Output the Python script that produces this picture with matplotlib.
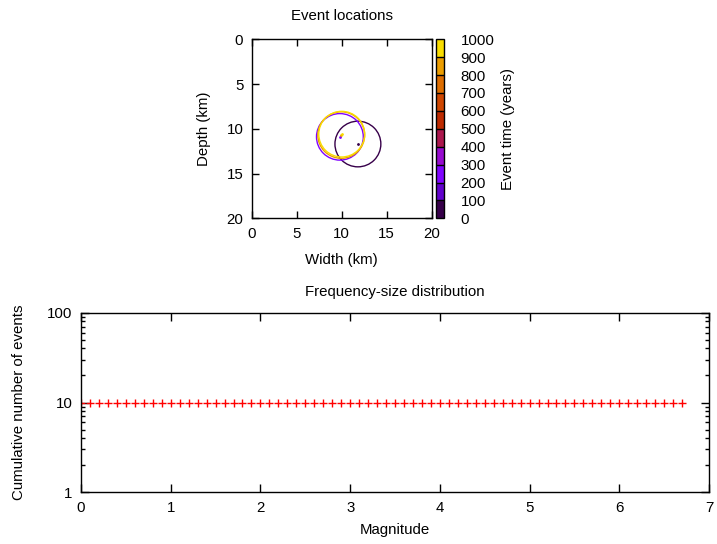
import numpy as np
import matplotlib
matplotlib.use('Agg')
import matplotlib.pyplot as plt
from matplotlib.colors import ListedColormap, BoundaryNorm
from matplotlib.patches import Circle

plt.rcParams['font.family'] = ['Liberation Sans', 'DejaVu Sans']
plt.rcParams['font.size'] = 10.8
plt.rcParams['axes.titlesize'] = 10.8

# events: hypocentre (width, depth), rupture radius (km), time (years)
event_x = [11.8, 9.8, 9.95, 10.0]
event_depth = [11.7, 10.9, 10.7, 10.6]
event_radius = [2.55, 2.6, 2.6, 2.55]
event_time = [50, 250, 850, 950]

# frequency-size distribution
magnitudes = np.round(np.arange(0.0, 6.75, 0.1), 1)
cum_counts = [10] * len(magnitudes)

# gnuplot default palette (7,5,15), 10 discrete colours
levels = np.linspace(0, 1000, 11)
cmap = ListedColormap(plt.cm.gnuplot((np.arange(10) + 0.5) / 10))
norm = BoundaryNorm(levels, cmap.N)

fig = plt.figure(figsize=(7.17, 5.44), dpi=100)

ax1 = fig.add_axes([251.7 / 717, 1 - 218.3 / 544, 180 / 717, 179 / 544])
for x, d, r, t in zip(event_x, event_depth, event_radius, event_time):
    c = cmap(norm(t))
    ax1.add_patch(Circle((x, d), r, fill=False, edgecolor=c, lw=1.0))
    ax1.plot(x, d, '.', color=c, ms=2)
ax1.set_xlim(0, 20)
ax1.set_ylim(20, 0)
ax1.set_xticks([0, 5, 10, 15, 20])
ax1.set_yticks([0, 5, 10, 15, 20])
ax1.tick_params(direction='in', top=True, right=True, length=5, width=1, pad=6)
ax1.set_xlabel('Width (km)', labelpad=9)
ax1.set_ylabel('Depth (km)', labelpad=11)
ax1.set_title('Event locations', pad=14)

cax = fig.add_axes([435.7 / 717, 1 - 218.3 / 544, 8.3 / 717, 179 / 544])
sm = matplotlib.cm.ScalarMappable(norm=norm, cmap=cmap)
cb = fig.colorbar(sm, cax=cax, ticks=levels, drawedges=True)
cb.outline.set_linewidth(1)
cb.dividers.set_linewidth(1)
cax.tick_params(length=0, pad=12)
cb.set_label('Event time (years)', labelpad=5)

ax2 = fig.add_axes([81 / 717, 1 - 492.3 / 544, 628 / 717, 179.6 / 544])
ax2.plot(magnitudes, cum_counts, '+', color='red', ms=6, mew=1)
ax2.set_yscale('log')
ax2.set_xlim(0, 7)
ax2.set_ylim(1, 100)
ax2.set_yticks([1, 10, 100])
ax2.set_yticklabels(['1', '10', '100'])
ax2.tick_params(which='major', direction='in', top=True, right=True, length=6, width=1, pad=6)
ax2.tick_params(which='minor', direction='in', right=True, length=3, width=1)
ax2.set_xlabel('Magnitude', labelpad=6)
ax2.set_ylabel('Cumulative number of events', labelpad=15)
ax2.set_title('Frequency-size distribution', pad=12)

for ax in (ax1, ax2):
    for s in ax.spines.values():
        s.set_linewidth(1)

fig.savefig('out.png', dpi=100)
